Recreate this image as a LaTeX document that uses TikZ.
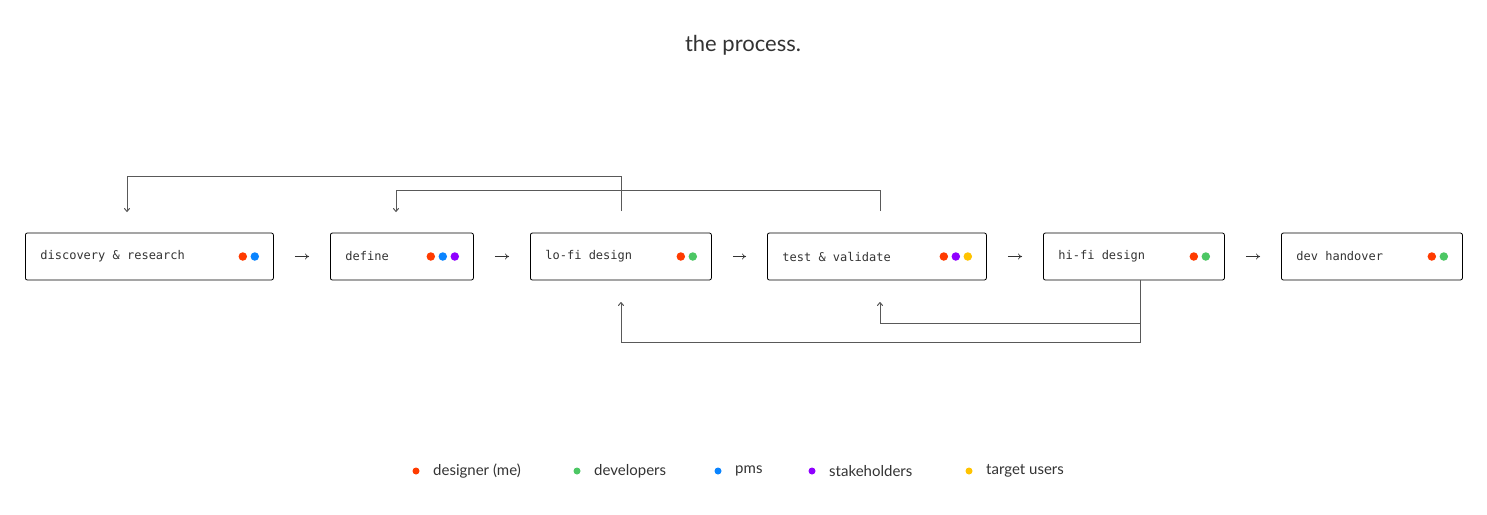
\documentclass[tikz,border=0pt]{standalone}
\usepackage{fontspec}
\setmainfont{Lato}
\setmonofont{DejaVu Sans Mono}
\usetikzlibrary{positioning,arrows.meta}
\definecolor{ink}{HTML}{333333}
\definecolor{cme}{HTML}{FF3B00}
\definecolor{cdev}{HTML}{4CC764}
\definecolor{cpm}{HTML}{0A84FF}
\definecolor{cstake}{HTML}{8F00FF}
\definecolor{cuser}{HTML}{FFC300}
\tikzset{
  stage/.style={draw=black, line width=0.8pt, rounded corners=2pt, minimum height=47pt,
    text=ink, font=\ttfamily\fontsize{12}{14}\selectfont, inner xsep=15pt, anchor=west},
  dot/.style={circle, fill=#1, inner sep=0pt, minimum size=8.5pt},
  flow/.style={-{To[length=4pt,width=6pt]}, ink, line width=0.6pt, shorten >=21pt, shorten <=21pt},
  fb/.style={-{To[length=4pt,width=6pt]}, black!65, line width=1pt},
  key/.style={text=ink, font=\fontsize{15}{18}\selectfont, anchor=west}
}
\begin{document}
\begin{tikzpicture}[x=1pt,y=-1pt]
\useasboundingbox (0,0) rectangle (1487,514);
\node[text=ink, font=\fontsize{22}{26}\selectfont] (title) at (743,45) {the process.};

% stages
\node[stage, minimum width=248pt] (disc) at (25,256.5) {\makebox[218pt][l]{discovery \& research}};
\node[stage, minimum width=143pt] (def) at (330,256.5) {\makebox[113pt][l]{define}};
\node[stage, minimum width=181pt] (lofi) at (530,256.5) {\makebox[151pt][l]{lo-fi design}};
\node[stage, minimum width=219pt] (test) at (767,256.5) {\makebox[189pt][l]{test \& validate}};
\node[stage, minimum width=181pt] (hifi) at (1043,256.5) {\makebox[151pt][l]{hi-fi design}};
\node[stage, minimum width=181pt] (dev) at (1281,256.5) {\makebox[151pt][l]{dev handover}};

% who is involved
\node[dot=cme] at ([xshift=-31pt]disc.east) {};
\node[dot=cpm] at ([xshift=-19pt]disc.east) {};
\node[dot=cme] at ([xshift=-43pt]def.east) {};
\node[dot=cpm] at ([xshift=-31pt]def.east) {};
\node[dot=cstake] at ([xshift=-19pt]def.east) {};
\node[dot=cme] at ([xshift=-31pt]lofi.east) {};
\node[dot=cdev] at ([xshift=-19pt]lofi.east) {};
\node[dot=cme] at ([xshift=-43pt]test.east) {};
\node[dot=cstake] at ([xshift=-31pt]test.east) {};
\node[dot=cuser] at ([xshift=-19pt]test.east) {};
\node[dot=cme] at ([xshift=-31pt]hifi.east) {};
\node[dot=cdev] at ([xshift=-19pt]hifi.east) {};
\node[dot=cme] at ([xshift=-31pt]dev.east) {};
\node[dot=cdev] at ([xshift=-19pt]dev.east) {};

% main flow
\draw[flow] (disc.east) -- (def.west);
\draw[flow] (def.east) -- (lofi.west);
\draw[flow] (lofi.east) -- (test.west);
\draw[flow] (test.east) -- (hifi.west);
\draw[flow] (hifi.east) -- (dev.west);

% loops back
\coordinate (discin) at (127,212);
\coordinate (defin) at (396,212);
\coordinate (lofiin) at (621,302);
\coordinate (testin) at (880,302);
\coordinate (hifiout) at (1140,280);
\draw[fb] (621,211) |- (127,176) -- (discin);
\draw[fb] (880,211) |- (396,190) -- (defin);
\draw[fb] (hifiout) |- (621,342) -- (lofiin);
\draw[fb] (1140,323) -| (testin);

% legend
\node[dot=cme, minimum size=7pt] (kme) at (416,471) {};
\node[key, right=10pt of kme] (tme) {designer (me)};
\node[dot=cdev, minimum size=7pt] (kdev) at (577,471) {};
\node[key, right=10pt of kdev] (tdev) {developers};
\node[dot=cpm, minimum size=7pt] (kpm) at (718,471) {};
\node[key, right=10pt of kpm] (tpm) {pms};
\node[dot=cstake, minimum size=7pt] (kstake) at (812,471) {};
\node[key, right=10pt of kstake] (tstake) {stakeholders};
\node[dot=cuser, minimum size=7pt] (kuser) at (969,471) {};
\node[key, right=10pt of kuser] (tuser) {target users};
\end{tikzpicture}
\end{document}
